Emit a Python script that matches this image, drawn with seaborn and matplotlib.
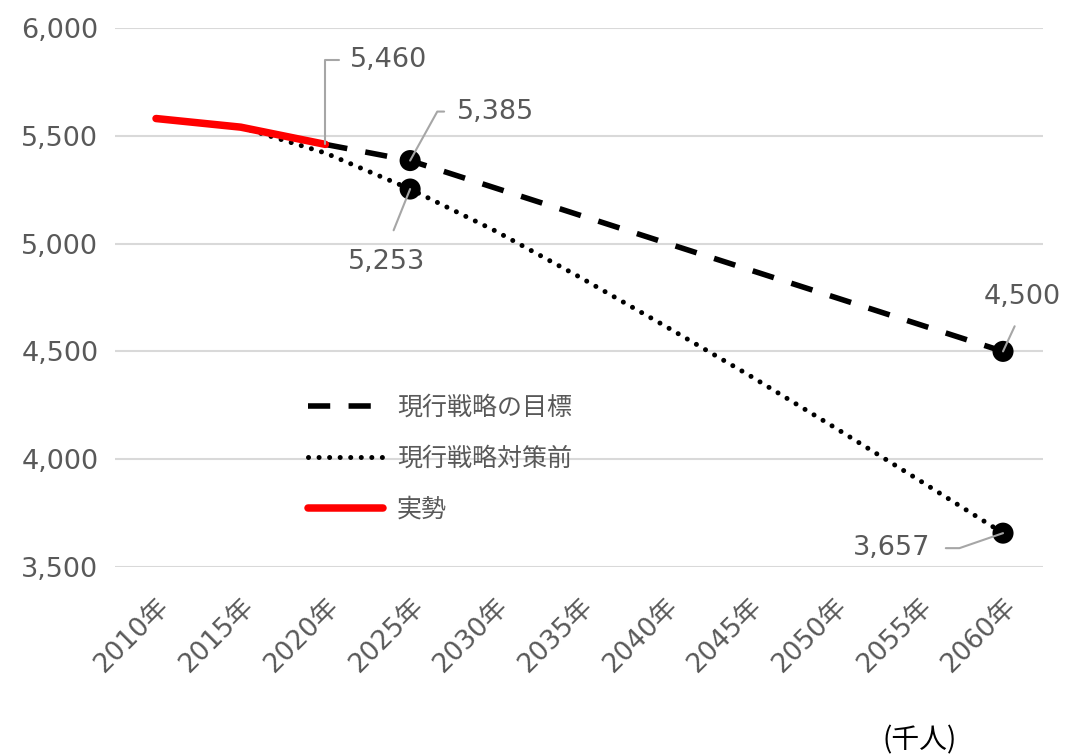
import matplotlib
matplotlib.use("Agg")
import matplotlib.pyplot as plt
import seaborn as sns
import pandas as pd
from matplotlib.ticker import FuncFormatter
from matplotlib.lines import Line2D

# ---- data ----
years_actual = [2010, 2015, 2020]
actual = [5580, 5540, 5460]

years_target = [2020, 2025, 2060]
target = [5460, 5385, 4500]

years_before = [2015, 2020, 2025, 2030, 2035, 2040, 2045, 2050, 2055, 2060]
before = [5540, 5420, 5253, 5060, 4845, 4620, 4390, 4150, 3905, 3657]

x_ticks = list(range(2010, 2061, 5))
x_tick_labels = [f"{y}年" for y in x_ticks]
y_ticks = [3500, 4000, 4500, 5000, 5500, 6000]

label_target = "現行戦略の目標"
label_before = "現行戦略対策前"
label_actual = "実勢"
unit_label = "(千人)"

marked_years = [2025, 2060]

# ---- style ----
sns.set_theme(style="white")
plt.rcParams["font.family"] = ["DejaVu Sans", "Noto Sans CJK JP"]
TXT = "#595959"
GRID = "#d9d9d9"
LEAD = "#a6a6a6"
FS = 18

DOT_LW, DOT_PAT = 3.6, (0.01, 2.1)
DASH_LW, DASH_PAT = 4.0, (4.0, 3.3)
RED_LW = 5.4

df_a = pd.DataFrame({"year": years_actual, "value": actual})
df_t = pd.DataFrame({"year": years_target, "value": target})
df_b = pd.DataFrame({"year": years_before, "value": before})

fig = plt.figure(figsize=(10.67, 7.56), dpi=100)
ax = fig.add_axes([0.1078, 0.25, 0.8697, 0.713])

sns.lineplot(data=df_b, x="year", y="value", ax=ax, color="black", lw=DOT_LW, zorder=3)
ax.lines[-1].set_dashes(DOT_PAT)
ax.lines[-1].set_dash_capstyle("round")
sns.lineplot(data=df_t, x="year", y="value", ax=ax, color="black", lw=DASH_LW, zorder=3)
ax.lines[-1].set_dashes(DASH_PAT)
sns.lineplot(data=df_a, x="year", y="value", ax=ax, color="#ff0000", lw=RED_LW, zorder=4)
ax.lines[-1].set_solid_capstyle("round")

pts = pd.concat([df_t[df_t.year.isin(marked_years)], df_b[df_b.year.isin(marked_years)]])
sns.scatterplot(data=pts, x="year", y="value", ax=ax, color="black", s=230,
                edgecolor="none", zorder=5)

ax.set_xlim(2007.58, 2062.36)
ax.set_ylim(3500, 6000)
ax.set_yticks(y_ticks)
ax.yaxis.set_major_formatter(FuncFormatter(lambda v, p: f"{v:,.0f}"))
ax.set_xticks(x_ticks)
ax.set_xticklabels(x_tick_labels, rotation=45, ha="right", rotation_mode="anchor")
ax.tick_params(axis="both", length=0, labelcolor=TXT)
ax.tick_params(axis="y", pad=12, labelsize=19.5)
ax.tick_params(axis="x", pad=19, labelsize=19)
ax.set_xlabel("")
ax.set_ylabel("")
ax.grid(axis="y", color=GRID, lw=1.5)
ax.set_axisbelow(True)
for s in ax.spines.values():
    s.set_visible(False)

# ---- annotations ----
def ann(year, series_years, series_vals, off, ha, relpos, shrinkA, cs):
    v = series_vals[series_years.index(year)]
    ax.annotate(f"{v:,}", xy=(year, v), xytext=off, textcoords="offset pixels",
                ha=ha, va="center", fontsize=19.5, color=TXT, zorder=6,
                arrowprops=dict(arrowstyle="-", color=LEAD, lw=1.5,
                                relpos=relpos, shrinkA=shrinkA, shrinkB=0,
                                connectionstyle=cs))

ann(2020, years_actual, actual, (25, 84), "left", (0, 0.5), 6,
    "angle,angleA=0,angleB=90,rad=0")
ann(2025, years_target, target, (47, 49), "left", (0, 0.5), 7,
    "angle,angleA=0,angleB=61,rad=0")
ann(2025, years_before, before, (-24, -73), "center", (0.5, 1), 12, "arc3")
ann(2060, years_target, target, (19, 54), "center", (0.5, 0), 10, "arc3")
ann(2060, years_before, before, (-73, -15), "right", (1, 0.5), 9,
    "angle,angleA=0,angleB=19,rad=0")

# ---- legend ----
h_t = Line2D([], [], color="black", lw=DASH_LW, dashes=DASH_PAT)
h_b = Line2D([], [], color="black", lw=DOT_LW, dashes=DOT_PAT, dash_capstyle="round")
h_a = Line2D([], [], color="#ff0000", lw=RED_LW, solid_capstyle="round")
leg = ax.legend([h_t, h_b, h_a], [label_target, label_before, label_actual],
                loc="upper left", bbox_to_anchor=(308 / 1067, 1 - 396 / 756),
                bbox_transform=fig.transFigure, frameon=False, fontsize=FS,
                handlelength=3.0, handletextpad=0.55, labelspacing=1.07,
                borderpad=0, borderaxespad=0)
for t in leg.get_texts():
    t.set_color(TXT)

fig.text(920 / 1067, 1 - 740 / 756, unit_label, ha="center", va="center",
         fontsize=20, color="black", family=["Noto Sans CJK JP"])

fig.savefig("out.png", dpi=100)
